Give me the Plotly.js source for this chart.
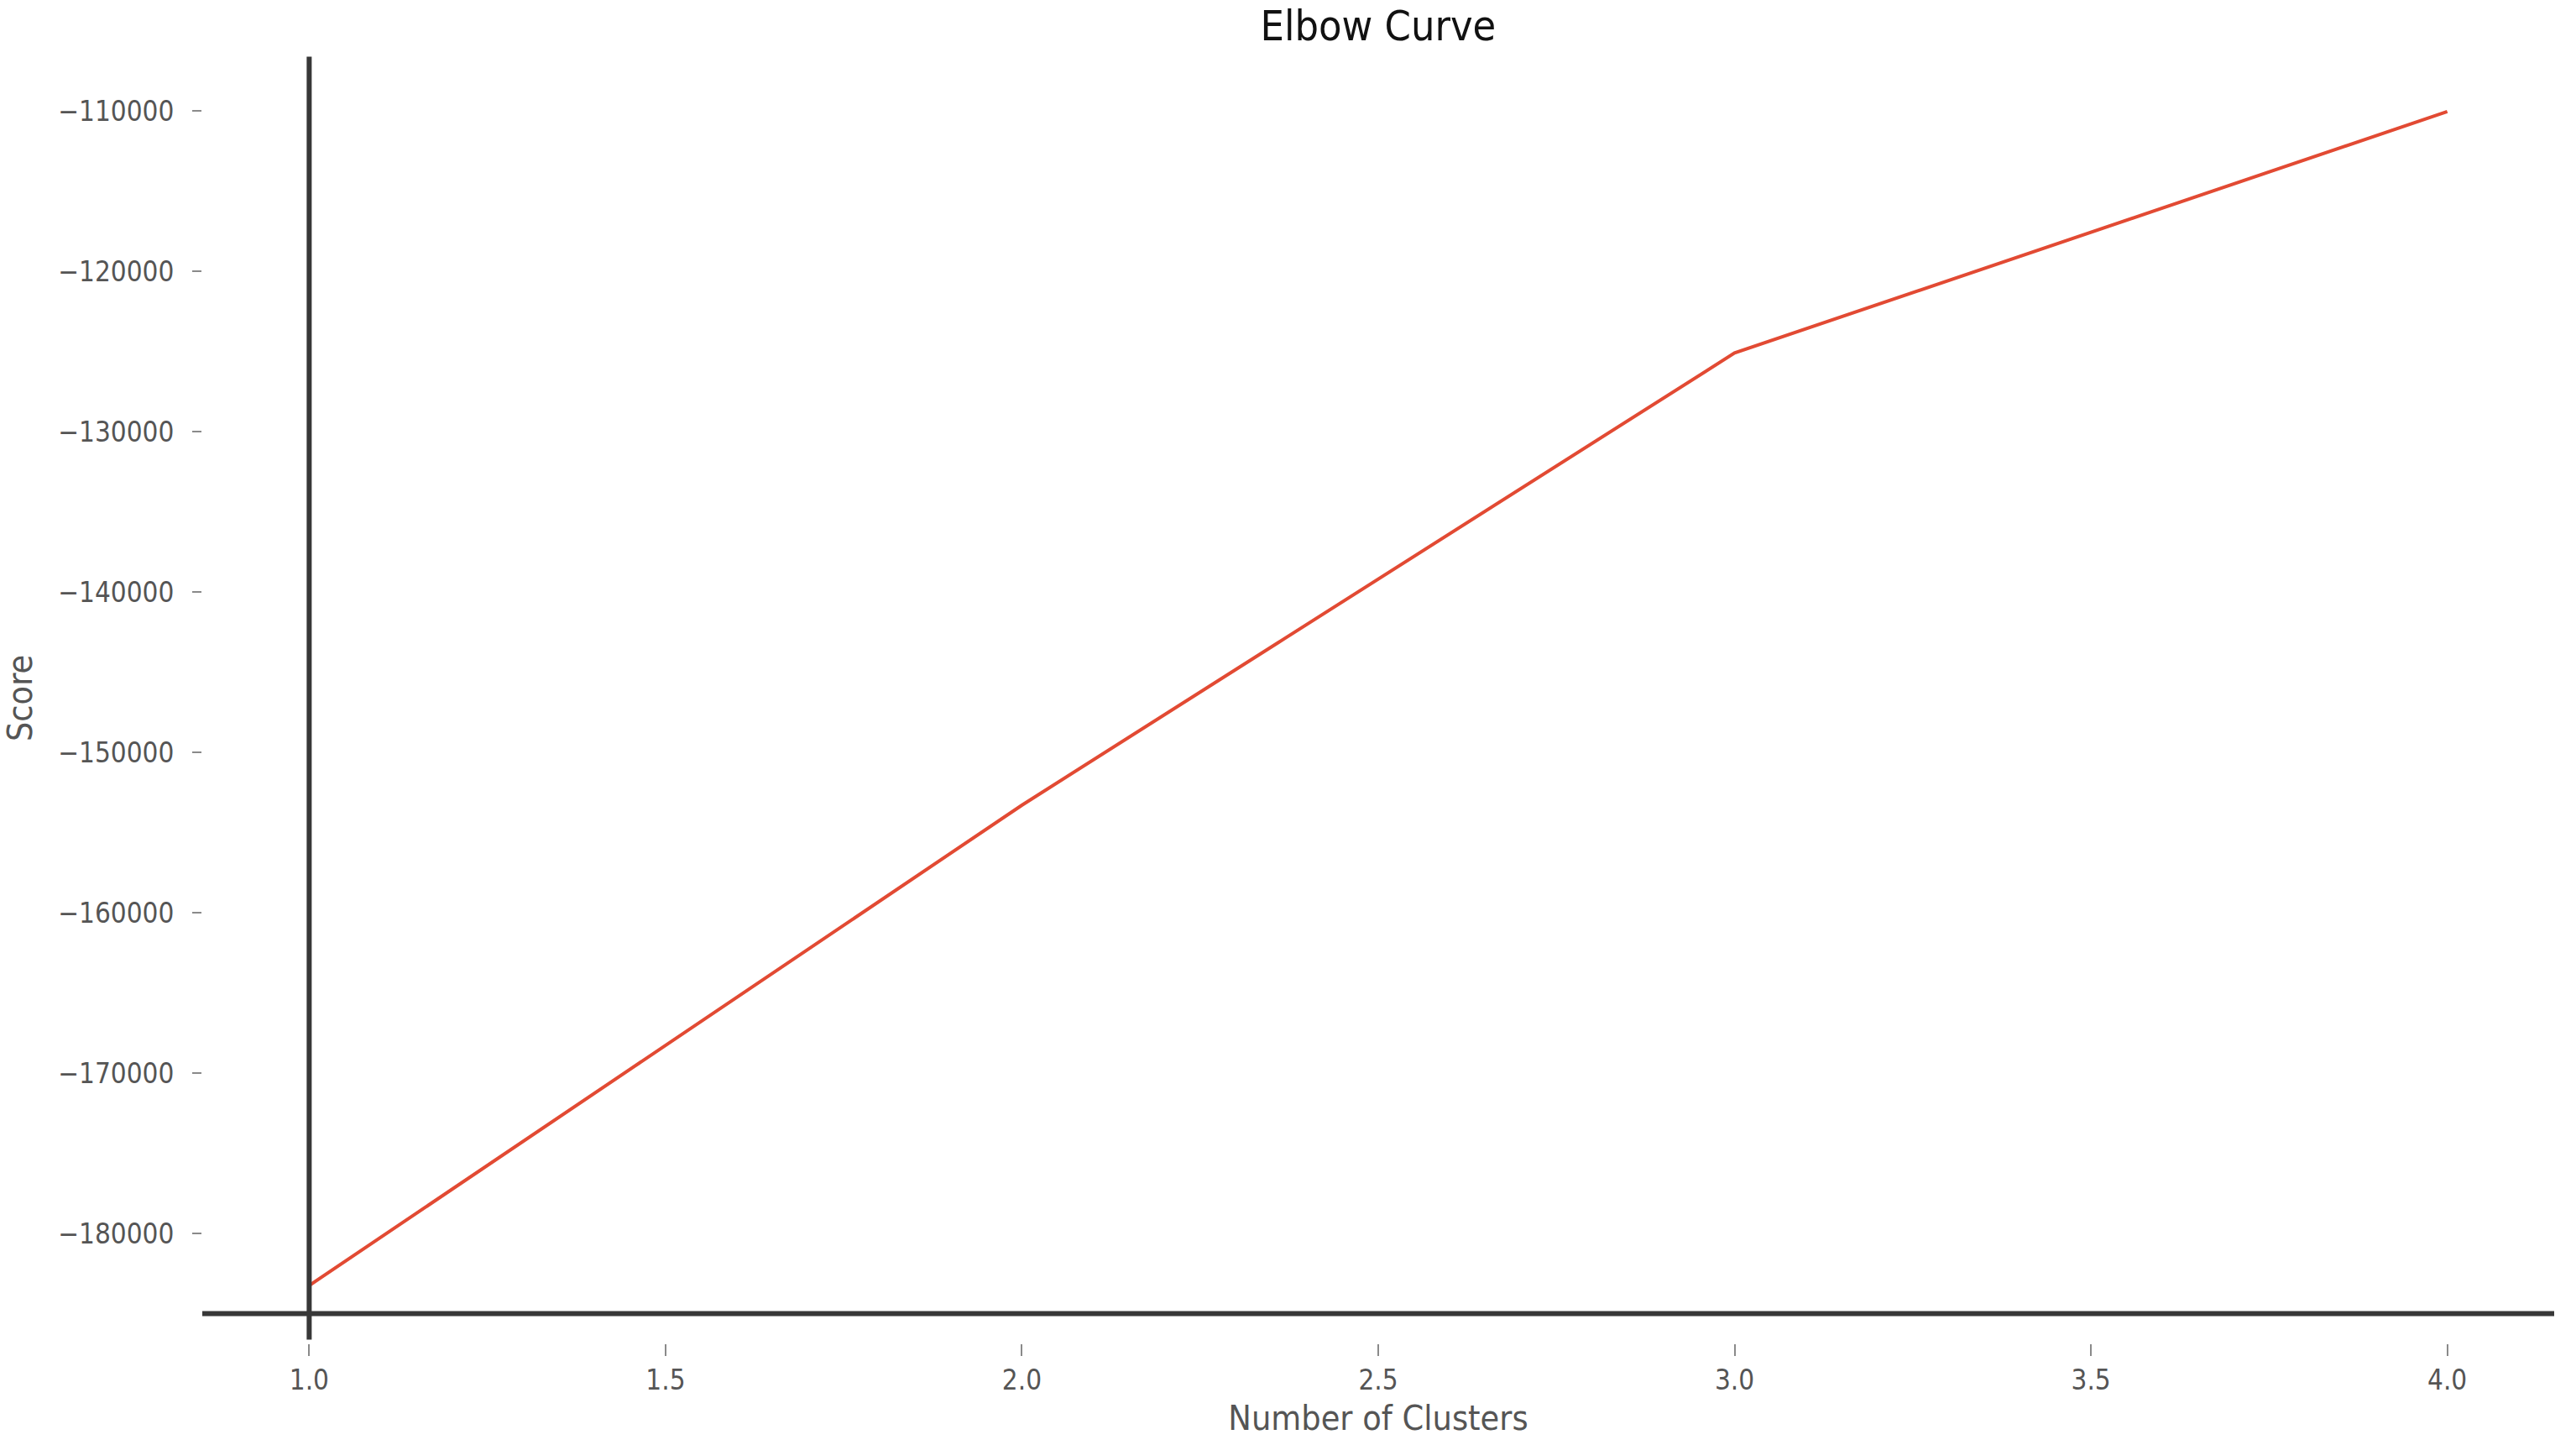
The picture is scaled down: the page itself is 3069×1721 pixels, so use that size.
<!DOCTYPE html>
<html>
<head>
<meta charset="utf-8">
<script src="https://cdn.plot.ly/plotly-3.0.1.min.js"></script>
<style>
  html, body { margin: 0; padding: 0; background: #ffffff; }
  #chart { width: 3069px; height: 1721px; }
</style>
</head>
<body>
<div id="chart"></div>
<script>
// Data
const clusters = [1, 2, 3, 4];
const scores = [-183250, -153300, -125100, -110050];

const xTickVals = [1.0, 1.5, 2.0, 2.5, 3.0, 3.5, 4.0];
const xTickText = ['1.0', '1.5', '2.0', '2.5', '3.0', '3.5', '4.0'];
const yTickVals = [-180000, -170000, -160000, -150000, -140000, -130000, -120000, -110000];
const yTickText = ['\u2212180000', '\u2212170000', '\u2212160000', '\u2212150000', '\u2212140000', '\u2212130000', '\u2212120000', '\u2212110000'];

const titleText = 'Elbow Curve';
const xTitle = 'Number of Clusters';
const yTitle = 'Score';
const baselineY = -185000;
const spineX = 1;

const FONT = '"DejaVu Sans Condensed", "DejaVu Sans", sans-serif';

const trace = {
  x: clusters,
  y: scores,
  type: 'scatter',
  mode: 'lines',
  line: { color: '#E24A33', width: 4 },
  hoverinfo: 'skip'
};

const layout = {
  width: 3069,
  height: 1721,
  paper_bgcolor: '#ffffff',
  plot_bgcolor: '#ffffff',
  showlegend: false,
  margin: { l: 241, r: 26, t: 63, b: 121, pad: 0 },
  title: {
    text: titleText,
    font: { family: FONT, size: 50, color: '#111111' },
    x: 0.535, xanchor: 'center',
    y: 0.982, yanchor: 'middle'
  },
  xaxis: {
    range: [0.85, 4.15],
    tickmode: 'array',
    tickvals: xTickVals,
    ticktext: xTickText,
    showgrid: false,
    zeroline: false,
    showline: false,
    ticks: 'outside',
    ticklen: 14,
    tickwidth: 2,
    tickcolor: '#8a8a8a',
    ticklabelstandoff: 0,
    tickfont: { family: FONT, size: 33, color: '#555555' },
    title: {
      text: xTitle,
      font: { family: FONT, size: 41, color: '#555555' },
      standoff: 12
    }
  },
  yaxis: {
    range: [-186860, -106390],
    tickmode: 'array',
    tickvals: yTickVals,
    ticktext: yTickText,
    showgrid: false,
    zeroline: false,
    showline: false,
    ticks: 'outside',
    ticklen: 11,
    tickwidth: 2,
    tickcolor: '#8a8a8a',
    ticklabelstandoff: 15,
    tickfont: { family: FONT, size: 33, color: '#555555' },
    title: {
      text: yTitle,
      font: { family: FONT, size: 41, color: '#555555' },
      standoff: 20
    }
  },
  shapes: [
    {
      type: 'line', xref: 'x', yref: 'paper',
      x0: spineX, x1: spineX, y0: 0.003, y1: 0.997,
      line: { color: '#383838', width: 6 }
    },
    {
      type: 'line', xref: 'paper', yref: 'y',
      x0: 0, x1: 1, y0: baselineY, y1: baselineY,
      line: { color: '#383838', width: 6 }
    }
  ]
};

Plotly.newPlot('chart', [trace], layout, { staticPlot: true, displayModeBar: false });
</script>
</body>
</html>
